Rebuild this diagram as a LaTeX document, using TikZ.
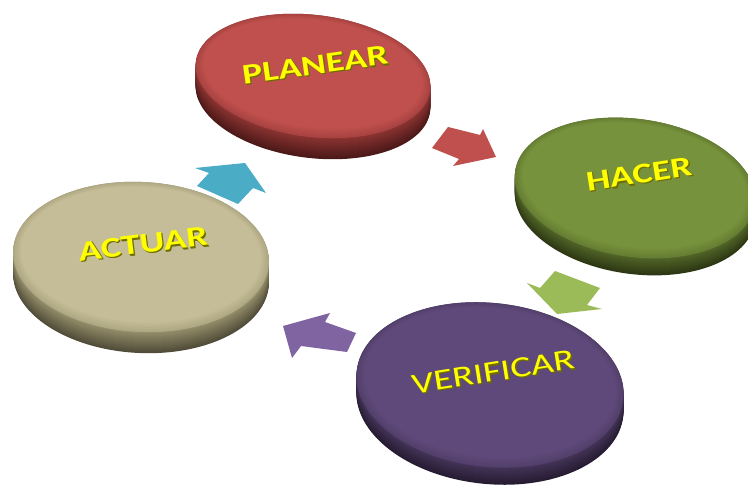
\documentclass[tikz,border=0pt]{standalone}
\usepackage{fontspec}
\setmainfont{Carlito}
\definecolor{planearface}{RGB}{192,80,77}
\definecolor{planearside}{RGB}{140,52,50}
\definecolor{planeardark}{RGB}{75,25,24}
\definecolor{hacerface}{RGB}{118,146,60}
\definecolor{hacerside}{RGB}{82,102,40}
\definecolor{hacerdark}{RGB}{45,56,20}
\definecolor{actuarface}{RGB}{196,189,151}
\definecolor{actuarside}{RGB}{150,143,108}
\definecolor{actuardark}{RGB}{80,76,56}
\definecolor{verifface}{RGB}{95,73,122}
\definecolor{verifside}{RGB}{68,52,88}
\definecolor{verifdark}{RGB}{38,28,50}
\definecolor{arrowred}{RGB}{192,80,77}
\definecolor{arrowgreen}{RGB}{155,187,89}
\definecolor{arrowpurple}{RGB}{128,100,162}
\definecolor{arrowblue}{RGB}{75,172,198}
\definecolor{labelyellow}{RGB}{255,255,0}
\definecolor{labeldepth}{RGB}{110,110,0}

% #1,#2 centre of the top face; #3,#4 radii; #5 tilt; #6 thickness;
% #7 face colour; #8 side colour; #9 colour at the foot of the side
\newcommand\pdcadisc[9]{%
  \foreach \k in {0,...,#6}{%
    \pgfmathtruncatemacro\mixp{100*\k/#6}%
    \fill[#8!\mixp!#9, rotate around={#5:(#1,#2+#6-\k)}]
      (#1,#2+#6-\k) ellipse [x radius=#3, y radius=#4];
  }%
  \fill[#7!55!#8, rotate around={#5:(#1,#2)}]
    (#1,#2) ellipse [x radius=#3, y radius=#4];
  \foreach \j in {1,...,6}{%
    \pgfmathtruncatemacro\mixq{55+\j*45/6}%
    \fill[#7!\mixq!#8, rotate around={#5:(#1,#2-0.4*\j)}]
      (#1,#2-0.4*\j) ellipse [x radius=#3-1.3*\j, y radius=#4-1.2*\j];
  }%
}

% yellow lettering with a dark extruded depth
% [#1] extra style, #2 name, #3 position, #4 angle, #5 text
\newcommand\pdcalabel[5][]{%
  \foreach \s in {2,1}{%
    \node[rotate=#4, label text, #1, text=labeldepth,
          xshift=\s*0.6pt, yshift=-\s*1pt] (#2-depth\s) at (#3) {#5};
  }%
  \node[rotate=#4, label text, #1, text=labelyellow] (#2) at (#3) {#5};
}

\begin{document}
\begin{tikzpicture}[x=1pt,y=-1pt,
  label text/.style={font=\fontsize{38}{38}\selectfont\bfseries,
                     inner sep=0pt, yscale=0.75},
  light label/.style={font=\fontsize{39}{39}\selectfont}]
\useasboundingbox (0,0) rectangle (748,486);
\clip (0,0) rectangle (748,486);
\fill[white] (0,0) rectangle (748,486);

% block arrows of the cycle
\fill[arrowred] (448,127) -- (480,135) -- (483,129) -- (496,157)
  -- (453,166) -- (459,159) -- (432,148) -- cycle;
\fill[arrowgreen] (527,283) -- (540,288) -- (555,271) -- (600,288)
  -- (587,305) -- (602,309) -- (557,314) -- cycle;
\fill[arrowpurple] (283,326) -- (330,313) -- (325,322) -- (356,333)
  -- (347,352) -- (301,346) -- (292,358) -- cycle;
\fill[arrowblue] (195,168) -- (245,163) -- (266,193) -- (253,188)
  -- (238,204) -- (197,186) -- (209,173) -- cycle;

% the four discs
\pdcadisc{313}{76}{118}{61}{-7}{21}{planearface}{planearside}{planeardark}
\pdcadisc{635}{188}{121}{69}{-8}{17}{hacerface}{hacerside}{hacerdark}
\pdcadisc{141}{257}{128}{75}{-3}{21}{actuarface}{actuarside}{actuardark}
\pdcadisc{490}{385}{134}{82}{-6}{17}{verifface}{verifside}{verifdark}

% labels
\pdcalabel{planear}{315,65}{8}{PLANEAR}
\pdcalabel{hacer}{639,174}{9}{HACER}
\pdcalabel{actuar}{143,244}{7}{ACTUAR}
\pdcalabel[light label]{verificar}{493,372}{9}{VERIFICAR}
\end{tikzpicture}
\end{document}
